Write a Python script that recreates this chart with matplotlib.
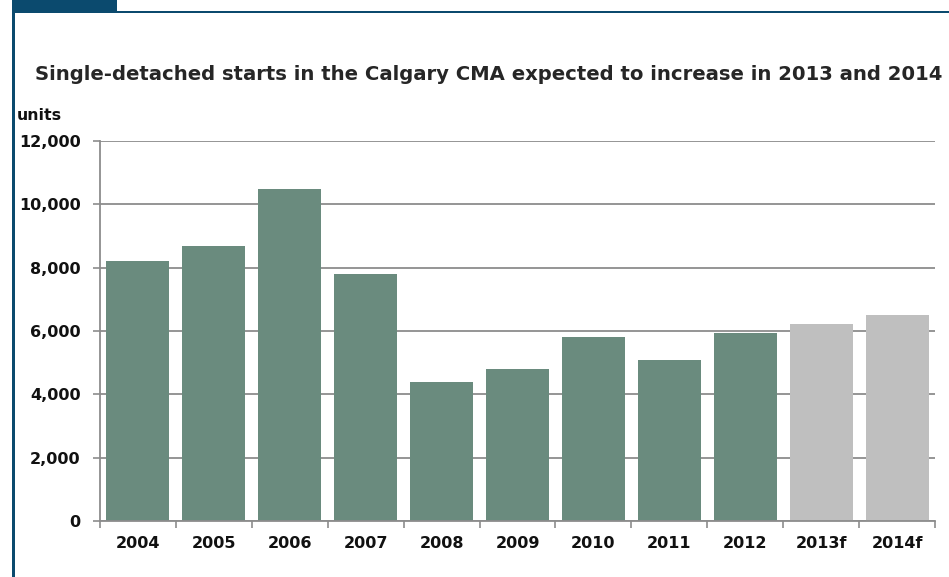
import matplotlib
matplotlib.use("Agg")
import matplotlib.pyplot as plt
from matplotlib.patches import Rectangle
from matplotlib.ticker import FuncFormatter

# annual single-detached starts, Calgary CMA
years = ["2004", "2005", "2006", "2007", "2008", "2009", "2010", "2011", "2012", "2013f", "2014f"]
starts = [8200, 8700, 10500, 7800, 4400, 4800, 5800, 5100, 5950, 6220, 6500]
forecast = [False] * 9 + [True] * 2

green = "#6a8b7e"
grey = "#bfbfbf"
navy = "#0b4a6e"
textcol = "#111111"

plt.rcParams["font.family"] = ["DejaVu Sans"]

W, H = 949, 577
fig = plt.figure(figsize=(W / 100, H / 100), dpi=100)

# frame: tab at top left, rule along top and left edge
fig.patches.append(Rectangle((12 / W, 1 - 12 / H), 105 / W, 12 / H, transform=fig.transFigure,
                             facecolor=navy, edgecolor="none"))
fig.patches.append(Rectangle((12 / W, 1 - 13 / H), 1 - 12 / W, 2 / H, transform=fig.transFigure,
                             facecolor=navy, edgecolor="none"))
fig.patches.append(Rectangle((12 / W, 0), 2.5 / W, 1 - 12 / H, transform=fig.transFigure,
                             facecolor=navy, edgecolor="none"))

ax = fig.add_axes([100 / W, 1 - 521 / H, 835 / W, 380 / H])
cols = [grey if f else green for f in forecast]
ax.bar(range(len(years)), starts, width=0.83, color=cols, zorder=2)

ax.set_xlim(-0.5, len(years) - 0.5)
ax.set_ylim(0, 12000)
ax.set_yticks(range(0, 12001, 2000))
ax.yaxis.set_major_formatter(FuncFormatter(lambda v, p: f"{int(v):,}"))
ax.yaxis.grid(True, color="#8c8c8c", linewidth=1.3, zorder=1)

ax.set_xticks(range(len(years)))
ax.set_xticklabels(years)
ax.set_xticks([i - 0.5 for i in range(len(years) + 1)], minor=True)
ax.tick_params(axis="x", which="major", length=0, pad=11)
ax.tick_params(axis="x", which="minor", length=5, width=1.2, color="#8c8c8c")
ax.tick_params(axis="y", length=5, width=1.2, color="#8c8c8c", pad=9)

for lab in ax.get_xticklabels() + ax.get_yticklabels():
    lab.set_fontweight("bold")
    lab.set_fontsize(11.5)
    lab.set_color(textcol)

for s in ["top", "right"]:
    ax.spines[s].set_visible(False)
for s in ["left", "bottom"]:
    ax.spines[s].set_color("#8c8c8c")
    ax.spines[s].set_linewidth(1.3)

fig.text(35 / W, 1 - 75 / H, "Single-detached starts in the Calgary CMA expected to increase in 2013 and 2014",
         fontsize=14.1, fontweight="bold", color="#262626", va="center", ha="left")
fig.text(17 / W, 1 - 115 / H, "units", fontsize=11.3, fontweight="bold", color=textcol, va="center", ha="left")

fig.savefig("out.png", dpi=100)
